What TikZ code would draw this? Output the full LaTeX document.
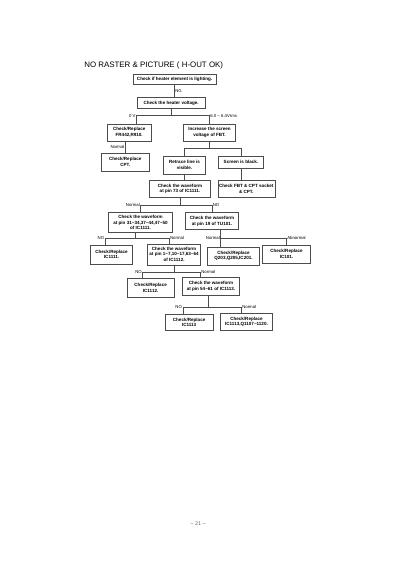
\documentclass[tikz,border=0pt]{standalone}
\usepackage{fontspec}
\setmainfont{Liberation Sans}
\usepackage{tikz}
\usetikzlibrary{positioning}
\tikzset{
    chkbox/.style={rectangle, draw=black!70, line width=0.4pt, align=center, inner sep=1pt, font=\fontsize{6.8}{8.5}\selectfont\bfseries},
    lbl/.style={font=\fontsize{6.4}{7.5}\selectfont, inner sep=1pt, text=black},
    link/.style={draw=black!70, line width=0.4pt}
}

\begin{document}
\begin{tikzpicture}
  \useasboundingbox (0,0) rectangle (210mm,-297mm);
  \node[anchor=west, font=\fontsize{11.8}{14}\selectfont] (title) at (43mm,-34.2mm) {NO RASTER \& PICTURE ( H-OUT OK)};
  \node[chkbox, minimum width=43.6mm, minimum height=5.25mm] (light) at (91.6mm,-41.5mm) {Check if heater element is lighting.};
  \node[chkbox, minimum width=35.7mm, minimum height=5.8mm, below=6.8mm of light, xshift=-1.8mm] (volt) {Check the heater voltage.};
  \node[chkbox, minimum width=23.1mm, minimum height=8.9mm, below=7.9mm of volt, xshift=-22mm] (fr) {Check/Replace\\FR442,R910.};
  \node[chkbox, minimum width=27.3mm, minimum height=8.9mm, right=16.8mm of fr] (fbt) {Increase the screen\\voltage of FBT.};
  \node[chkbox, minimum width=25.2mm, minimum height=9.45mm, below=6.3mm of fr, xshift=-2.1mm] (cpt) {Check/Replace\\CPT.};
  \node[chkbox, minimum width=22mm, minimum height=9.45mm, below=7.9mm of fbt, xshift=-13.1mm] (ret) {Retrace line is\\visible.};
  \node[chkbox, minimum width=23.6mm, minimum height=6.3mm, below=7.9mm of fbt, xshift=16.5mm] (scr) {Screen is black.};
  \node[chkbox, minimum width=32mm, minimum height=8.9mm, below=3.15mm of ret, xshift=-2.4mm] (wave) {Check the waveform\\at pin 73 of IC1111.};
  \node[chkbox, minimum width=29.9mm, minimum height=8.9mm, right=3.7mm of wave] (sock) {Check FBT \& CPT socket\\\& CPT.};
  \node[chkbox, minimum width=33.6mm, minimum height=10.5mm, below=7.9mm of wave, xshift=-20.7mm] (pin31) {Check the waveform\\at pin 31\textasciitilde34,37\textasciitilde44,47\textasciitilde50\\of IC1111.};
  \node[chkbox, minimum width=27.8mm, minimum height=8.9mm, below=7.9mm of wave, xshift=16.8mm] (pin19) {Check the waveform\\at pin 19 of TU101.};
  \node[chkbox, minimum width=22mm, minimum height=10mm, below=6.3mm of pin31, xshift=-15.2mm] (ic1111) {Check/Replace\\IC1111.};
  \node[chkbox, minimum width=27.8mm, minimum height=11mm, below=5.8mm of pin31, xshift=17.6mm] (pin17) {Check the waveform\\at pin 1\textasciitilde7,10\textasciitilde17,63\textasciitilde64\\of IC1112.};
  \node[chkbox, minimum width=27.3mm, minimum height=9.45mm, below=8.9mm of pin19, xshift=11.3mm] (q203) {Check/Replace\\Q203,Q205,IC201.};
  \node[chkbox, minimum width=25.2mm, minimum height=9.45mm, below=7.9mm of pin19, xshift=39.1mm] (ic101) {Check/Replace\\IC101.};
  \node[chkbox, minimum width=24.2mm, minimum height=10mm, below=6.8mm of pin17, xshift=-12.3mm] (ic1112) {Check/Replace\\IC1112.};
  \node[chkbox, minimum width=30mm, minimum height=9.45mm, below=6.3mm of pin17, xshift=19.4mm] (pin54) {Check the waveform\\at pin 54\textasciitilde61 of IC1113.};
  \node[chkbox, minimum width=25.7mm, minimum height=8.4mm, below=10mm of pin54, xshift=-11.5mm] (ic13a) {Check/Replace\\IC1113};
  \node[chkbox, minimum width=27.3mm, minimum height=8.9mm, below=9.45mm of pin54, xshift=18.6mm] (ic13b) {Check/Replace\\IC1113,Q1107\textasciitilde1120.};
  \node[lbl, font=\fontsize{8}{9}\selectfont, text=black!60] (pgno) at (104mm,-275mm) {– 21 –};
  \draw[link] (light.south) -- node[lbl, right]{NG} (light.south |- volt.north);
  \draw[link] (volt.south) -- ++(0,-3.7mm) coordinate (j1);
  \draw[link] ([xshift=3.7mm]fr.north) |- node[lbl, left]{0 V} (j1) -| node[lbl, right]{6.0 \textasciitilde{} 6.4Vrms} (fbt.north);
  \draw[link] (fr.south -| cpt.north) -- node[lbl, left]{Normal} (cpt.north);
  \draw[link] (fbt.south) -- ++(0,-3.7mm) coordinate (j2);
  \draw[link] (ret.north) |- (j2) -| (scr.north);
  \draw[link] (ret.south) -- (ret.south |- wave.north);
  \draw[link] (scr.south) -- (scr.south |- sock.north);
  \draw[link] (wave.south) -- ++(0,-4.2mm) coordinate (j3);
  \draw[link] (pin31.north) |- node[lbl, left]{Normal} (j3) -| node[lbl, right]{NO} (pin19.north);
  \draw[link] ([xshift=-2.6mm]pin31.south) -- ++(0,-2.6mm) coordinate (j4);
  \draw[link] ([xshift=-3.5mm]ic1111.north) |- node[lbl, left]{NO} (j4) -| node[lbl, right]{Normal} ([xshift=-2.5mm]pin17.north);
  \draw[link] ([xshift=4.5mm]pin19.south) -- ++(0,-4.2mm) coordinate (j5);
  \draw[link] (j5 |- q203.north) -- node[lbl, left, pos=1]{Normal} (j5) -| node[lbl, right]{Abnormal} (ic101.north);
  \draw[link] (pin17.south) -- ++(0,-3.7mm) coordinate (j6);
  \draw[link] ([xshift=-4.2mm]ic1112.north) |- node[lbl, left]{NO} (j6) -| node[lbl, right]{Normal} ([xshift=-5.5mm]pin54.north);
  \draw[link] ([xshift=-1.3mm]pin54.south) -- ++(0,-6.3mm) coordinate (j7);
  \draw[link] ([xshift=-3.4mm]ic13a.north) |- node[lbl, left]{NO} (j7) -| node[lbl, right]{Normal} ([xshift=-2.6mm]ic13b.north);
\end{tikzpicture}
\end{document}
